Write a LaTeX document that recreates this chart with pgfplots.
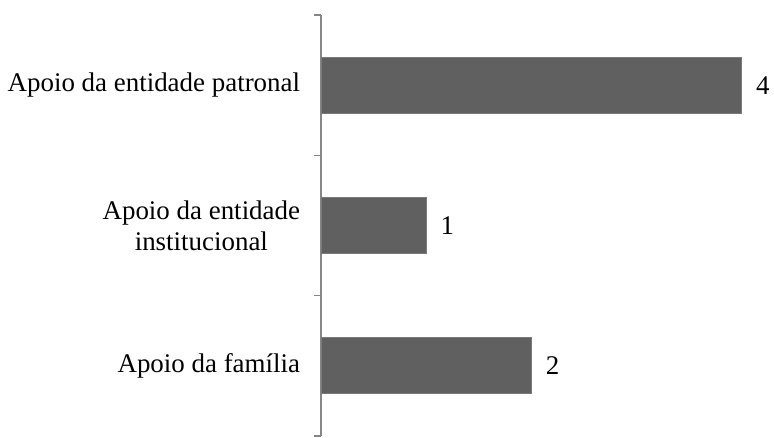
\documentclass[border=0pt]{standalone}
\usepackage{pgfplots}
\pgfplotsset{compat=1.18}
\usepackage{fontspec}
\setmainfont{Liberation Serif}
\definecolor{barfill}{HTML}{606060}
\definecolor{baredge}{HTML}{7A7A7A}
\definecolor{axisgray}{HTML}{868686}
\begin{document}
\begin{tikzpicture}
\useasboundingbox (0,0) rectangle (580.5pt,327.75pt);
\begin{axis}[
  at={(240.75pt,0.75pt)}, anchor=south west,
  scale only axis,
  width=331.5pt, height=315.75pt,
  xbar, bar width=42pt,
  xmin=0, xmax=4.2,
  ymin=-0.5, ymax=2.5,
  axis x line=none,
  axis y line*=left,
  axis line style={axisgray, line width=1pt, -},
  ytick={0,1,2},
  yticklabels={Apoio da família, {Apoio da entidade\\institucional}, Apoio da entidade patronal},
  minor ytick={-0.5,0.5,1.5,2.5},
  tick align=outside,
  major tick length=0pt,
  minor tick length=5.25pt,
  tick style={axisgray, line width=1pt},
  yticklabel style={align=center, inner sep=0pt, xshift=-15.5pt,
    font=\fontsize{20.2}{23}\selectfont},
  /pgf/number format/assume math mode=true,
  nodes near coords,
  every node near coord/.append style={anchor=west, xshift=7pt,
    font=\fontsize{20.2}{23}\selectfont, black},
  clip=false,
]
\addplot[fill=barfill, draw=baredge, line width=0.75pt] coordinates {(2,0) (1,1) (4,2)};
\end{axis}
\end{tikzpicture}
\end{document}
